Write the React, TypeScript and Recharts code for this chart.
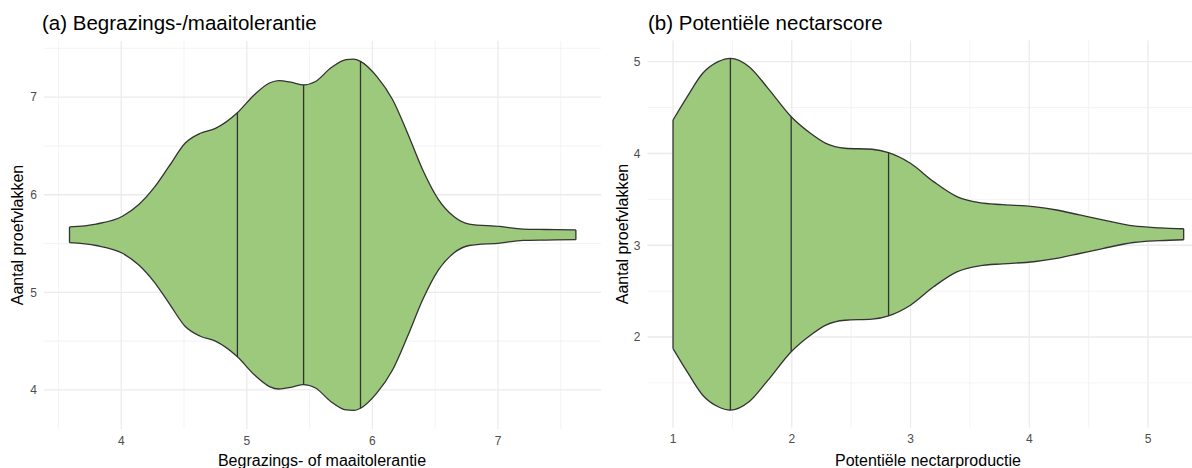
import React from 'react';
import { ComposedChart, Area, XAxis, YAxis, CartesianGrid, ReferenceLine } from 'recharts';

// ---------- Panel (a): Begrazings-/maaitolerantie ----------
const leftX = [3.588, 3.8, 4.01, 4.14, 4.26, 4.38, 4.51, 4.63, 4.75, 4.925, 5.06, 5.18, 5.255, 5.36, 5.452, 5.547, 5.67, 5.79, 5.85, 5.905, 6.036, 6.16, 6.28, 6.4, 6.526, 6.648, 6.77, 7.015, 7.2, 7.38, 7.62];
const leftHalfWidth = [0.08, 0.11, 0.19, 0.31, 0.48, 0.7, 0.94, 1.04, 1.09, 1.25, 1.435, 1.555, 1.58, 1.56, 1.535, 1.57, 1.71, 1.795, 1.8, 1.777, 1.62, 1.385, 1.04, 0.666, 0.36, 0.187, 0.11, 0.085, 0.058, 0.054, 0.05];
const leftCenter = 5.59;
const leftQuantiles = [4.925, 5.452, 5.905];
const leftXTicks = [4, 5, 6, 7];
const leftYTicks = [4, 5, 6, 7];
const leftMinorX = [3.5, 4.5, 5.5, 6.5, 7.5];
const leftMinorY = [4.5, 5.5, 6.5, 7.5];
const leftXDomain = [3.385, 7.82];
const leftYDomain = [3.6, 7.575];

// ---------- Panel (b): Potentiële nectarscore ----------
const rightX = [1.0, 1.12, 1.25, 1.38, 1.483, 1.64, 1.8, 1.995, 2.157, 2.287, 2.448, 2.676, 2.815, 2.999, 3.194, 3.39, 3.58, 3.776, 4.036, 4.23, 4.424, 4.618, 4.878, 5.1, 5.3];
const rightHalfWidth = [1.245, 1.5, 1.754, 1.88, 1.917, 1.826, 1.59, 1.28, 1.1, 0.99, 0.937, 0.926, 0.889, 0.773, 0.573, 0.41, 0.344, 0.322, 0.3, 0.264, 0.21, 0.156, 0.09, 0.07, 0.06];
const rightCenter = 3.12;
const rightQuantiles = [1.483, 1.995, 2.815];
const rightXTicks = [1, 2, 3, 4, 5];
const rightYTicks = [2, 3, 4, 5];
const rightMinorX = [1.5, 2.5, 3.5, 4.5, 5.5];
const rightMinorY = [1.5, 2.5, 3.5, 4.5];
const rightXDomain = [0.785, 5.515];
const rightYDomain = [1.013, 5.23];

const FONT = '"Liberation Sans", Arial, Helvetica, sans-serif';
const FILL = '#9cc97b';
const EDGE = '#333333';

type Row = { x: number; range: [number, number] };

function buildRows(xs: number[], hw: number[], c: number): Row[] {
  return xs.map((x, i) => ({ x, range: [c - hw[i], c + hw[i]] as [number, number] }));
}

function ViolinPanel(props: any) {
  const { left, width, xs, hw, center, quantiles, xDomain, yDomain, xTicks, yTicks, minorX, minorY, margin, yAxisWidth, xAxisHeight } = props;
  const rows = buildRows(xs, hw, center);
  const qRows = quantiles.map((q: number) => rows.find((r) => r.x === q)).filter(Boolean) as Row[];
  const endRows = [rows[0], rows[rows.length - 1]];
  return (
    <div style={{ position: 'absolute', left, top: 0 }}>
      <ComposedChart width={width} height={468} data={rows} margin={margin}>
        <CartesianGrid xAxisId="minor" yAxisId="minor" stroke="#f2f2f2" strokeWidth={0.9} syncWithTicks />
        <CartesianGrid stroke="#ebebeb" strokeWidth={1.3} syncWithTicks />
        <XAxis xAxisId="minor" type="number" dataKey="x" domain={xDomain} ticks={minorX} allowDataOverflow hide />
        <YAxis yAxisId="minor" type="number" domain={yDomain} ticks={minorY} allowDataOverflow hide />
        <XAxis
          type="number"
          dataKey="x"
          domain={xDomain}
          ticks={xTicks}
          allowDataOverflow
          axisLine={false}
          tickLine={false}
          tickSize={0}
          tickMargin={7}
          height={xAxisHeight}
          tick={{ fill: '#4d4d4d', fontSize: 12, fontFamily: FONT }}
        />
        <YAxis
          type="number"
          domain={yDomain}
          ticks={yTicks}
          allowDataOverflow
          axisLine={false}
          tickLine={false}
          tickSize={0}
          tickMargin={7}
          width={yAxisWidth}
          tick={{ fill: '#4d4d4d', fontSize: 12, fontFamily: FONT }}
        />
        <Area
          type="monotone"
          dataKey="range"
          fill={FILL}
          fillOpacity={1}
          stroke={EDGE}
          strokeWidth={1.3}
          dot={false}
          activeDot={false}
          isAnimationActive={false}
        />
        {[...qRows, ...endRows].map((r, i) => (
          <ReferenceLine
            key={'seg' + i}
            segment={[{ x: r.x, y: r.range[0] }, { x: r.x, y: r.range[1] }]}
            stroke={EDGE}
            strokeWidth={1.3}
          />
        ))}
      </ComposedChart>
    </div>
  );
}

export default function App() {
  return (
    <div style={{ position: 'fixed', left: 0, top: 0, width: 1192, height: 468, overflow: 'hidden', background: '#ffffff' }}>
      <ViolinPanel
        left={0}
        width={610}
        xs={leftX}
        hw={leftHalfWidth}
        center={leftCenter}
        quantiles={leftQuantiles}
        xDomain={leftXDomain}
        yDomain={leftYDomain}
        xTicks={leftXTicks}
        yTicks={leftYTicks}
        minorX={leftMinorX}
        minorY={leftMinorY}
        margin={{ top: 41, right: 9, bottom: 0, left: 0 }}
        yAxisWidth={44}
        xAxisHeight={39}
      />
      <ViolinPanel
        left={600}
        width={620}
        xs={rightX}
        hw={rightHalfWidth}
        center={rightCenter}
        quantiles={rightQuantiles}
        xDomain={rightXDomain}
        yDomain={rightYDomain}
        xTicks={rightXTicks}
        yTicks={rightYTicks}
        minorX={rightMinorX}
        minorY={rightMinorY}
        margin={{ top: 40.6, right: 10.8, bottom: 0, left: 0 }}
        yAxisWidth={47.5}
        xAxisHeight={40.4}
      />
      <svg width={1192} height={468} style={{ position: 'absolute', left: 0, top: 0, pointerEvents: 'none' }}>
        <g fontFamily={FONT} fill="#000000">
          <text x={42} y={29.5} fontSize={20.5}>(a) Begrazings-/maaitolerantie</text>
          <text x={648} y={29.5} fontSize={20.5}>(b) Potentiële nectarscore</text>
          <text x={322} y={466} fontSize={16} textAnchor="middle">Begrazings- of maaitolerantie</text>
          <text x={928} y={466} fontSize={16} textAnchor="middle">Potentiële nectarproductie</text>
          <text x={22.5} y={235} fontSize={16} textAnchor="middle" transform="rotate(-90 22.5 235)">Aantal proefvlakken</text>
          <text x={628} y={234} fontSize={16} textAnchor="middle" transform="rotate(-90 628 234)">Aantal proefvlakken</text>
        </g>
      </svg>
    </div>
  );
}
